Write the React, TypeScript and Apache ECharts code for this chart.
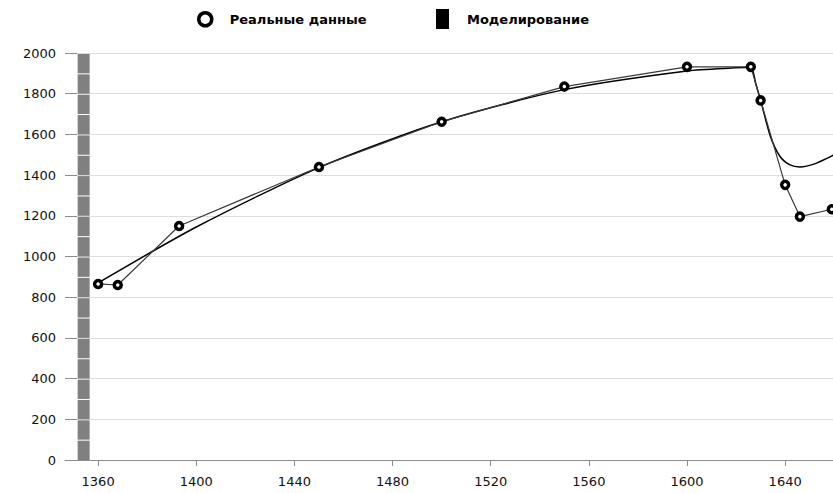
import React, { useEffect, useRef } from "react";
import * as echarts from "echarts";

const realYears = [1360, 1368, 1393, 1450, 1500, 1550, 1600, 1626, 1630, 1640, 1646, 1659];
const realValues = [865, 860, 1150, 1440, 1662, 1835, 1932, 1932, 1767, 1352, 1196, 1232];

const modelYears = [1360, 1400, 1450, 1500, 1550, 1600, 1620, 1626, 1628, 1630, 1634, 1638, 1642, 1646, 1652, 1660];
const modelValues = [870, 1145, 1437, 1662, 1820, 1912, 1927, 1930, 1850, 1767, 1590, 1490, 1450, 1440, 1455, 1500];

const xTicks = [1360, 1400, 1440, 1480, 1520, 1560, 1600, 1640];
const barYear = 1354.1;
const barSegments = [0, 100, 200, 300, 400, 500, 600, 700, 800, 900, 1000, 1100, 1200, 1300, 1400, 1500, 1600, 1700, 1800, 1900];
const barStep = 100;

export default function App() {
  const ref = useRef<HTMLDivElement>(null);
  useEffect(() => {
    if (!ref.current) return;
    const chart = echarts.init(ref.current, null, { renderer: "svg" });
    const font = "DejaVu Sans";
    chart.setOption({
      animation: false,
      backgroundColor: "#ffffff",
      textStyle: { fontFamily: font },
      legend: [
        {
          left: 192,
          top: 6,
          itemWidth: 13,
          itemHeight: 13,
          selectedMode: false,
          data: [
            {
              name: "Реальные данные",
              icon: "circle",
              itemStyle: { color: "#ffffff", borderColor: "#000000", borderWidth: 3.5 },
            },
          ],
          textStyle: { fontFamily: font, fontWeight: "bold", fontSize: 13, color: "#000", padding: [0, 0, 0, 13] },
        },
        {
          left: 431,
          top: 4,
          itemWidth: 13,
          itemHeight: 20,
          selectedMode: false,
          data: [{ name: "Моделирование", icon: "rect", itemStyle: { color: "#000000", borderWidth: 0 } }],
          textStyle: { fontFamily: font, fontWeight: "bold", fontSize: 13, color: "#000", padding: [0, 0, 0, 13] },
        },
      ],
      grid: { left: 65, right: 0, top: 53, bottom: 33, containLabel: false },
      xAxis: {
        type: "value",
        min: 1346.5,
        max: 1659.5,
        axisLine: { show: true, lineStyle: { color: "#8c8c8c", width: 1 } },
        axisTick: { show: true, length: 6, lineStyle: { color: "#8c8c8c" }, customValues: xTicks },
        axisLabel: {
          fontFamily: font,
          fontSize: 13,
          color: "#111",
          margin: 15,
          customValues: xTicks,
          formatter: (v: number) => String(v),
        },
        splitLine: { show: false },
      },
      yAxis: {
        type: "value",
        min: 0,
        max: 2000,
        interval: 200,
        axisLine: { show: false },
        axisTick: { show: true, inside: true, length: 12, lineStyle: { color: "#8c8c8c" } },
        axisLabel: { fontFamily: font, fontSize: 13, color: "#111", margin: 9, formatter: (v: number) => String(v) },
        splitLine: { show: true, lineStyle: { color: "#dedede", width: 1 } },
      },
      series: [
        {
          name: "bar",
          type: "custom",
          silent: true,
          data: barSegments.map((v) => [barYear, v, v + barStep]),
          renderItem: (params: any, api: any) => {
            const x = api.value(0);
            const lo = api.coord([x, api.value(1)]);
            const hi = api.coord([x, api.value(2)]);
            const w = 12;
            return {
              type: "rect",
              shape: { x: lo[0] - w / 2, y: hi[1] + 1, width: w, height: lo[1] - hi[1] - 1 },
              style: { fill: "#808080" },
            };
          },
          z: 3,
        },
        {
          name: "Моделирование",
          type: "line",
          data: modelYears.map((x, i) => [x, modelValues[i]]),
          smooth: 0.25,
          showSymbol: false,
          symbol: "none",
          lineStyle: { color: "#000000", width: 1.5 },
          itemStyle: { color: "#000000" },
          z: 4,
        },
        {
          name: "Реальные данные",
          type: "line",
          data: realYears.map((x, i) => [x, realValues[i]]),
          symbol: "circle",
          symbolSize: 7,
          lineStyle: { color: "#3a3a3a", width: 1.2 },
          itemStyle: { color: "#ffffff", borderColor: "#000000", borderWidth: 3.5 },
          z: 5,
        },
      ],
    });
    return () => chart.dispose();
  }, []);
  return (
    <div
      ref={ref}
      style={{ position: "fixed", left: 0, top: 0, width: 833, height: 493 }}
    />
  );
}
